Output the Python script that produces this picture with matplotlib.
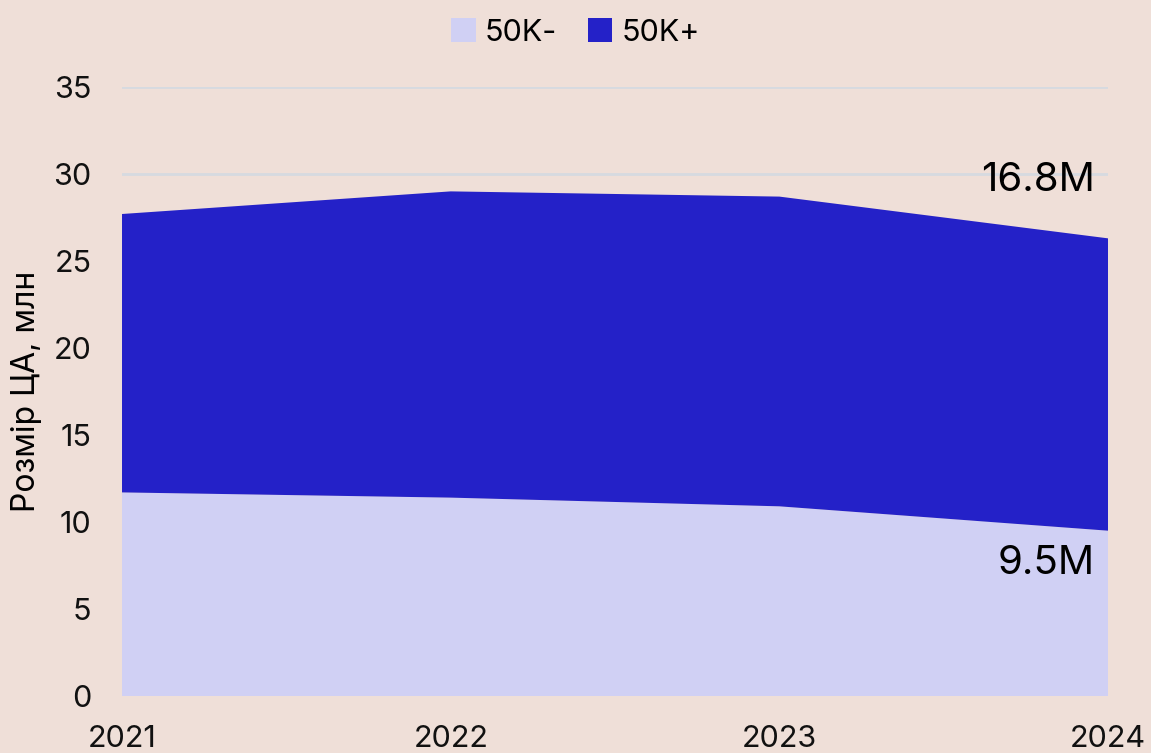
import matplotlib.pyplot as plt
from matplotlib.patches import Patch

plt.rcParams['font.family'] = ['Inter', 'DejaVu Sans']

years = [2021, 2022, 2023, 2024]
small = [11.7, 11.4, 10.9, 9.5]    # 50K-
large = [16.0, 17.6, 17.8, 16.8]   # 50K+
labels = ['50K-', '50K+']

bg = '#efdfd8'
light = '#d0d0f4'
dark = '#2421c8'

fig = plt.figure(figsize=(11.51, 7.53), dpi=100, facecolor=bg)
ax = fig.add_axes([0.106, 0.0757, 0.8567, 0.8088])
ax.set_facecolor(bg)

ax.stackplot(years, small, large, colors=[light, dark], linewidth=0, zorder=2)

ax.set_xlim(2021, 2024)
ax.set_ylim(0, 35)
ax.set_xticks(years)
ax.set_yticks(range(0, 36, 5))
ax.grid(axis='y', color='#d6dae0', linewidth=2, zorder=0)
ax.set_axisbelow(True)
for s in ax.spines.values():
    s.set_visible(False)
ax.tick_params(length=0, labelsize=22, colors='#111111')
ax.tick_params(axis='y', pad=22)
ax.tick_params(axis='x', pad=21)
ax.set_ylabel('Розмір ЦА, млн', fontsize=23, labelpad=8)

ax.text(years[-1] - 0.04, small[-1] + large[-1] + 3.3, f'{large[-1]}M',
        fontsize=29, ha='right', va='center')
ax.text(years[-1] - 0.04, small[-1] - 1.9, f'{small[-1]}M',
        fontsize=29, ha='right', va='center')

handles = [Patch(facecolor=light), Patch(facecolor=dark)]
fig.legend(handles, labels, loc='upper center', bbox_to_anchor=(0.5, 1.012),
           ncol=2, frameon=False, fontsize=22, handlelength=0.8,
           handleheight=0.8, handletextpad=0.3, columnspacing=1.0)

fig.savefig('out.png', dpi=100, facecolor=bg)
